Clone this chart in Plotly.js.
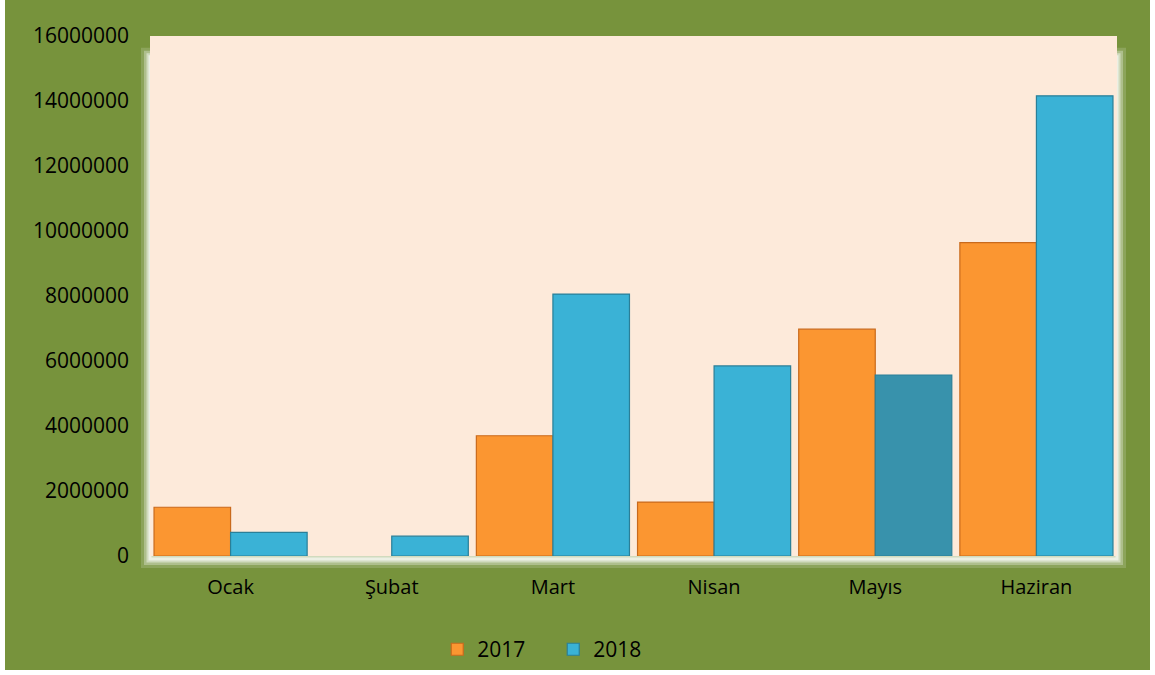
<!DOCTYPE html>
<html>
<head>
<meta charset="utf-8">
<script src="https://cdn.plot.ly/plotly-3.0.1.min.js"></script>
<style>
  html, body { margin: 0; padding: 0; background: #ffffff; }
  #chart { position: absolute; left: 5px; top: 0px; width: 1145px; height: 670px; }
</style>
</head>
<body>
<div id="chart"></div>
<script>
const months = ["Ocak", "Şubat", "Mart", "Nisan", "Mayıs", "Haziran"];
const values2017 = [1500000, 0, 3700000, 1660000, 6980000, 9640000];
const values2018 = [730000, 610000, 8060000, 5850000, 5570000, 14160000];
const yTicks = [0, 2000000, 4000000, 6000000, 8000000, 10000000, 12000000, 14000000, 16000000];
const yTickLabels = ["0", "2000000", "4000000", "6000000", "8000000", "10000000", "12000000", "14000000", "16000000"];

const blue2018 = values2018.map((v, i) => i === 4 ? "#3892AC" : "#3AB2D6");
const lineW2017 = values2017.map(v => v > 0 ? 1.2 : 0);

const traces = [
  {
    type: "bar", name: "2017", x: months, y: values2017,
    marker: { color: "#FB9631", line: { color: "#C96A1C", width: lineW2017 } },
    hoverinfo: "x+y+name"
  },
  {
    type: "bar", name: "2018", x: months, y: values2018,
    marker: { color: blue2018, line: { color: "#2A7F98", width: 1.2 } },
    hoverinfo: "x+y+name"
  }
];

// soft white glow around the plot area, then the peach plot background on top of it
const glow = [18, 12, 7, 3].map((w, i) => ({
  type: "rect", xref: "paper", yref: "paper", x0: 0, x1: 1, y0: -0.006, y1: 0.96,
  line: { color: "rgba(255,255,255," + (0.16 + i * 0.14) + ")", width: w },
  fillcolor: "rgba(0,0,0,0)", layer: "below"
}));
const plotBg = {
  type: "rect", xref: "paper", yref: "paper", x0: 0, x1: 1, y0: 0, y1: 1,
  line: { width: 0 }, fillcolor: "#FDEADA", layer: "below"
};

const layout = {
  paper_bgcolor: "#77933C",
  plot_bgcolor: "rgba(0,0,0,0)",
  margin: { l: 145, r: 33, t: 36, b: 114, autoexpand: false },
  barmode: "group",
  bargap: 0.05,
  bargroupgap: 0,
  font: { family: "Open Sans, sans-serif", color: "#000000", size: 20 },
  showlegend: true,
  legend: {
    orientation: "h", x: 0.417, xanchor: "center", y: -0.18, yanchor: "middle",
    font: { size: 21, color: "#000000" }, bgcolor: "rgba(0,0,0,0)",
    entrywidth: 71, entrywidthmode: "pixels", itemwidth: 30
  },
  shapes: glow.concat([plotBg]),
  xaxis: {
    type: "category", showgrid: false, zeroline: false, showline: false,
    ticks: "", tickfont: { size: 20 }, ticklabelstandoff: 17
  },
  yaxis: {
    range: [0, 16000000], tickvals: yTicks, ticktext: yTickLabels,
    showgrid: false, zeroline: false, showline: false, ticks: "",
    tickfont: { size: 21 }, ticklabelstandoff: 20
  }
};

Plotly.newPlot("chart", traces, layout, { displayModeBar: false, responsive: false });
</script>
</body>
</html>
